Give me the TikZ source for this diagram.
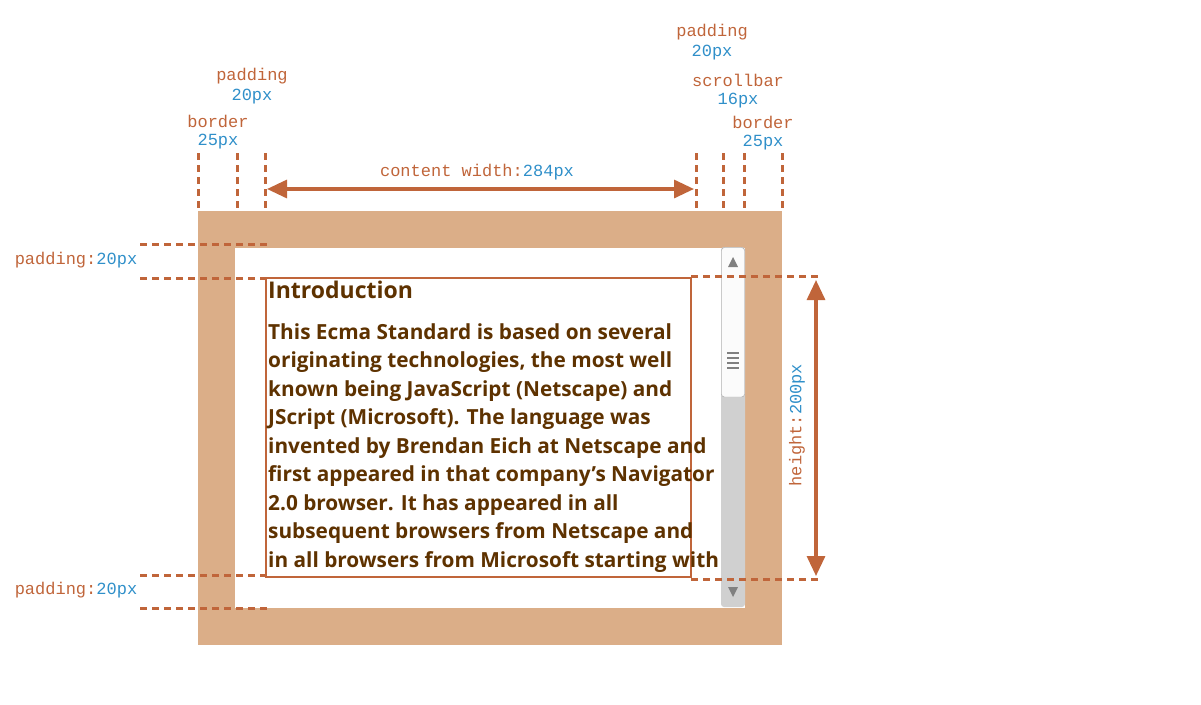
\documentclass[tikz,border=0pt]{standalone}
\usepackage{fontspec}
\setmainfont{Open Sans}
\newfontfamily\labelfont{Liberation Mono}
\usetikzlibrary{arrows.meta}
\definecolor{rust}{RGB}{192,101,58}
\definecolor{sky}{RGB}{47,143,201}
\definecolor{tan}{RGB}{219,174,136}
\definecolor{ink}{RGB}{94,50,0}
\definecolor{bar}{RGB}{208,208,208}
\tikzset{
  guide/.style={rust, line width=3pt, dash pattern=on 7pt off 5pt},
  measure/.style={rust, line width=3.2pt, {Triangle[length=20pt,width=18pt]}-{Triangle[length=20pt,width=18pt]}},
  lbl/.style={font=\labelfont\fontsize{17}{19}\selectfont, inner sep=0pt, text=rust},
}
\newcommand{\px}[1]{\textcolor{sky}{#1}}
\begin{document}
\begin{tikzpicture}[x=1pt,y=-1pt]
\useasboundingbox (0,0) rectangle (1201,704);

  %% Box
  \fill[tan] (198,211) rectangle (782,645);
  \fill[white] (235,248) rectangle (745,608);
  \fill[bar, rounded corners=3pt] (721,247) rectangle (745,607);
  \fill[white!92!bar, draw=bar!80!black, rounded corners=3pt] (721.5,247.5) rectangle (744.5,397);
  \foreach \y in {353,358,363,368}{
    \draw[gray, line width=2pt] (727,\y) -- (739,\y);
  }
  \fill[gray] (728,267) -- (738,267) -- (733,257) -- cycle;
  \fill[gray] (728,587) -- (738,587) -- (733,597) -- cycle;
  \draw[rust, line width=2.8pt] (266,278) rectangle (691,577);

  %% Text
  \node[anchor=north west, inner sep=0pt, text=ink, align=left,
        font=\bfseries\fontsize{20.8}{28.5}\selectfont] (body) at (268,281)
  {{\fontsize{23}{28}\selectfont Introduction}\\[12pt]
   This Ecma Standard is based on several\\
   originating technologies, the most well\\
   known being JavaScript (Netscape) and\\
   JScript (Microsoft). The language was\\
   invented by Brendan Eich at Netscape and\\
   first appeared in that company’s Navigator\\
   2.0 browser. It has appeared in all\\
   subsequent browsers from Netscape and\\
   in all browsers from Microsoft starting with};

  %% Vertical guides
  \foreach \x in {198,237,265,696,723,744,782}{
    \coordinate (t\x) at (\x,153);
    \coordinate (b\x) at (\x,211);
    \draw[guide] (t\x) -- (b\x);
  }
  %% Horizontal guides
  \foreach \y in {244,278,575,608}{
    \coordinate (l\y) at (140,\y);
    \coordinate (r\y) at (268,\y);
    \draw[guide] (l\y) -- (r\y);
  }
  \foreach \y in {276,579}{
    \coordinate (l\y) at (691,\y);
    \coordinate (r\y) at (820,\y);
    \draw[guide] (l\y) -- (r\y);
  }

  %% Measures
  \coordinate (cwl) at (267,189);
  \coordinate (cwr) at (694,189);
  \draw[measure] (cwl) -- (cwr);
  \coordinate (ht) at (816,280);
  \coordinate (hb) at (816,576);
  \draw[measure] (ht) -- (hb);

  %% Labels
  \node[lbl] (cw) at (477,172) {content width:\px{284px}};
  \node[lbl, rotate=90] (hl) at (797,425) {height:\px{200px}};
  \node[lbl] (pt) at (76,260) {padding:\px{20px}};
  \node[lbl] (pb) at (76,590) {padding:\px{20px}};
  \node[lbl] (bl) at (218,121) {border};
  \node[lbl] (blv) at (218,142) {\px{25px}};
  \node[lbl] (pl) at (252,76) {padding};
  \node[lbl] (plv) at (252,97) {\px{20px}};
  \node[lbl] (pr) at (712,32) {padding};
  \node[lbl] (prv) at (712,53) {\px{20px}};
  \node[lbl] (sb) at (738,80) {scrollbar};
  \node[lbl] (sbv) at (738,101) {\px{16px}};
  \node[lbl] (br) at (763,122) {border};
  \node[lbl] (brv) at (763,143) {\px{25px}};
\end{tikzpicture}
\end{document}
